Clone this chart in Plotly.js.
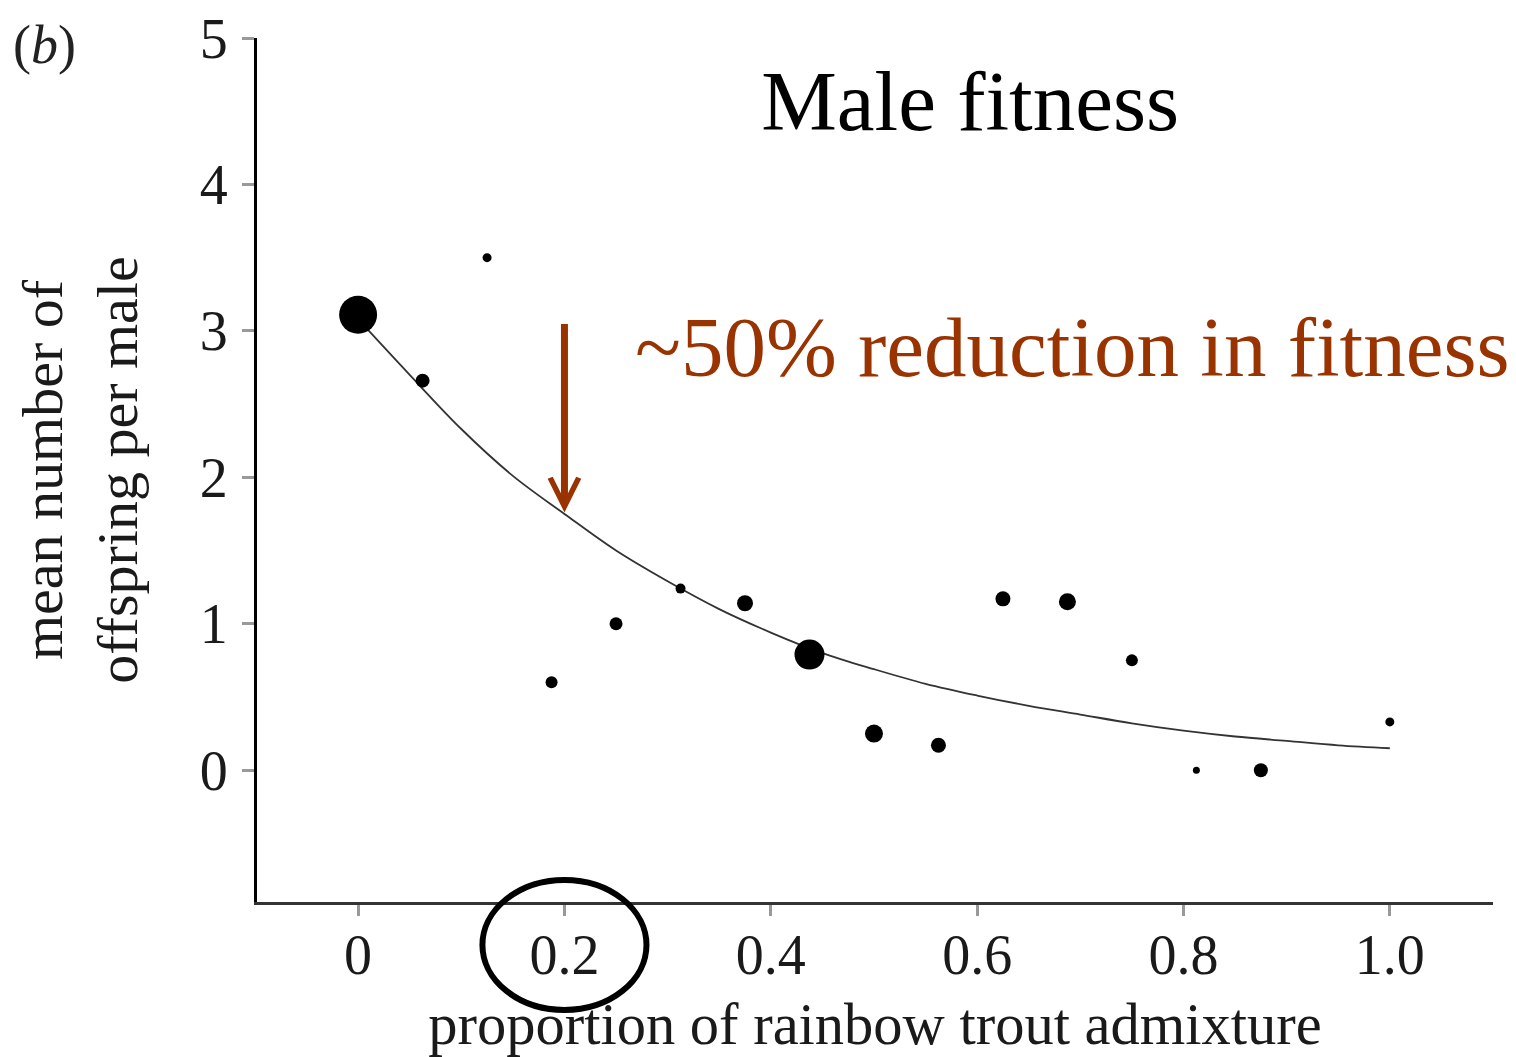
<!DOCTYPE html>
<html>
<head>
<meta charset="utf-8">
<script src="https://cdn.plot.ly/plotly-3.0.1.min.js"></script>
<style>html,body{margin:0;padding:0;background:#fff;}#chart{width:1516px;height:1057px;}</style>
</head>
<body>
<div id="chart"></div>
<script>
// Observed data (proportion of rainbow trout admixture vs mean offspring per male)
const admixture = [0, 0.0625, 0.125, 0.1875, 0.25, 0.3125, 0.375, 0.4375, 0.5, 0.5625, 0.625, 0.6875, 0.75, 0.8125, 0.875, 1.0];
const offspring = [3.11, 2.66, 3.50, 0.60, 1.00, 1.24, 1.14, 0.79, 0.25, 0.17, 1.17, 1.15, 0.75, 0.00, 0.00, 0.33];
const markerSize = [38, 14, 9, 12, 13, 10, 16, 30, 18, 15, 15, 17, 12, 7, 14, 9];

// Fitted curve
const curveX = [0, 0.05, 0.1, 0.15, 0.2, 0.25, 0.3, 0.35, 0.4, 0.45, 0.5, 0.55, 0.6, 0.65, 0.7, 0.75, 0.8, 0.85, 0.9, 0.95, 1.0];
const curveY = [3.08, 2.70, 2.33, 2.01, 1.75, 1.50, 1.29, 1.10, 0.94, 0.80, 0.69, 0.59, 0.51, 0.44, 0.38, 0.32, 0.27, 0.23, 0.20, 0.17, 0.15];

const xTickVals = [0, 0.2, 0.4, 0.6, 0.8, 1.0];
const xTickText = ['0', '0.2', '0.4', '0.6', '0.8', '1.0'];
const yTickVals = [0, 1, 2, 3, 4, 5];

const serif = 'Liberation Serif, Times New Roman, serif';
const red = '#993300';

const traces = [
  {
    x: curveX, y: curveY, type: 'scatter', mode: 'lines',
    line: {color: '#333333', width: 1.8, shape: 'spline'},
    hoverinfo: 'skip', showlegend: false
  },
  {
    x: admixture, y: offspring, type: 'scatter', mode: 'markers',
    marker: {color: '#000000', size: markerSize, opacity: 1, line: {width: 0}},
    cliponaxis: false, showlegend: false
  }
];

const layout = {
  width: 1516, height: 1057,
  margin: {l: 257, r: 23, t: 38, b: 155},
  paper_bgcolor: '#ffffff', plot_bgcolor: '#ffffff',
  font: {family: serif, color: '#111111'},
  showlegend: false,
  title: {
    text: 'Male fitness',
    font: {family: serif, size: 85, color: '#000000'},
    xref: 'paper', x: 0.577, xanchor: 'center',
    yref: 'container', y: 0.905, yanchor: 'middle'
  },
  xaxis: {
    range: [-0.098, 1.10],
    tickmode: 'array', tickvals: xTickVals, ticktext: xTickText,
    ticks: 'outside', ticklen: 11, tickwidth: 3, tickcolor: '#999999',
    showline: true, linecolor: '#333333', linewidth: 3,
    showgrid: false, zeroline: false,
    tickfont: {family: serif, size: 56, color: '#1a1a1a'},
    ticklabelstandoff: -9,
    title: {text: 'proportion of rainbow trout admixture', font: {family: serif, size: 58.5, color: '#1a1a1a'}, standoff: 22}
  },
  yaxis: {
    range: [-0.9, 5.0],
    tickmode: 'array', tickvals: yTickVals,
    ticks: 'outside', ticklen: 12, tickwidth: 3, tickcolor: '#999999',
    showline: true, linecolor: '#000000', linewidth: 3,
    showgrid: false, zeroline: false,
    tickfont: {family: serif, size: 56, color: '#1a1a1a'},
    ticklabelstandoff: 3,
    title: {text: 'mean number of<br>offspring per male', font: {family: serif, size: 58, color: '#1a1a1a'}, standoff: 44}
  },
  annotations: [
    {
      x: 0.2, y: 1.76, xref: 'x', yref: 'y',
      showarrow: true, ax: 0, ay: -190, axref: 'pixel', ayref: 'pixel',
      arrowhead: 5, arrowsize: 0.8, arrowwidth: 7, arrowcolor: red, text: ''
    },
    {
      x: 0.692, y: 2.89, xref: 'x', yref: 'y', showarrow: false,
      text: '~50% reduction in fitness',
      font: {family: serif, size: 85, color: red},
      xanchor: 'center', yanchor: 'middle'
    },
    {
      x: -0.199, y: 0.992, xref: 'paper', yref: 'paper', showarrow: false,
      text: '(<i>b</i>)', font: {family: serif, size: 54, color: '#222222'},
      xanchor: 'left', yanchor: 'middle'
    }
  ],
  shapes: [
    {
      type: 'circle', xref: 'x', yref: 'paper',
      x0: 0.1205, x1: 0.2795, y0: -0.125, y1: 0.0255,
      line: {color: '#000000', width: 6}, layer: 'above'
    }
  ]
};

Plotly.newPlot('chart', traces, layout, {displayModeBar: false, staticPlot: true});
</script>
</body>
</html>
